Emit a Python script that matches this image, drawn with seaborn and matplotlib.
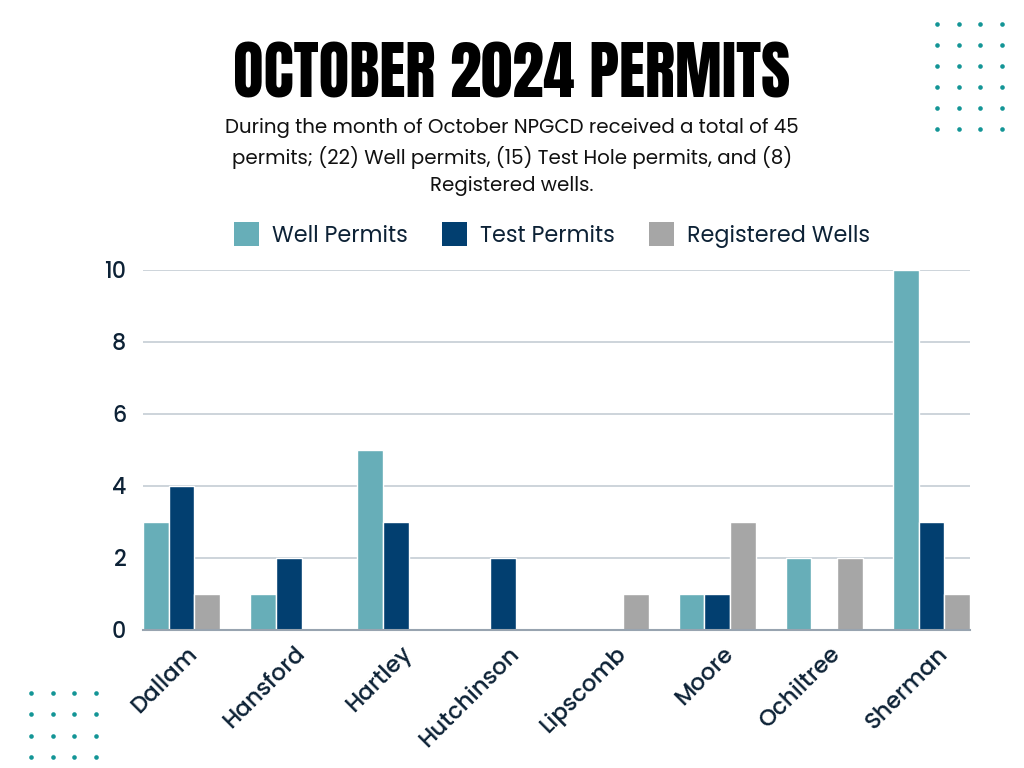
import numpy as np
import pandas as pd
import matplotlib
matplotlib.use("Agg")
import matplotlib.pyplot as plt
import matplotlib.transforms as mtransforms
from matplotlib import font_manager as fm
import seaborn as sns

# ---- data ----
counties = ["Dallam", "Hansford", "Hartley", "Hutchinson", "Lipscomb", "Moore", "Ochiltree", "Sherman"]
well_permits = [3, 1, 5, 0, 0, 1, 2, 10]
test_permits = [4, 2, 3, 2, 0, 1, 0, 3]
registered_wells = [1, 0, 0, 0, 1, 3, 2, 1]
series_names = ["Well Permits", "Test Permits", "Registered Wells"]
y_ticks = [0, 2, 4, 6, 8, 10]

title_text = "OCTOBER 2024 PERMITS"
subtitle_text = ("During the month of October NPGCD received a total of 45\n"
                 "permits; (22) Well permits, (15) Test Hole permits, and (8)\n"
                 "Registered wells.")

colors = {"Well Permits": "#67AEB8", "Test Permits": "#023F70", "Registered Wells": "#A6A6A6"}
text_dark = "#0D2236"

df = pd.DataFrame({
    "County": counties * 3,
    "Series": sum([[s] * len(counties) for s in series_names], []),
    "Value": well_permits + test_permits + registered_wells,
})

sns.set_style("white")
names = {f.name for f in fm.fontManager.ttflist}
body_font = next((n for n in ["Poppins", "Montserrat", "Open Sans", "Lato", "DejaVu Sans"] if n in names), "DejaVu Sans")
title_font = next((n for n in ["Anton", "Oswald", "Bebas Neue", "Roboto Condensed", "Liberation Sans Narrow", "DejaVu Sans"] if n in names), "DejaVu Sans")
plt.rcParams["font.family"] = [body_font, "DejaVu Sans"]

W, H = 1024, 768
fig = plt.figure(figsize=(W / 100, H / 100), dpi=100, facecolor="white")
ax = fig.add_axes([143 / W, 138 / H, 827 / W, 360 / H])

sns.barplot(data=df, x="County", y="Value", hue="Series", palette=colors,
            hue_order=series_names, order=counties, width=0.72, saturation=1,
            edgecolor="white", linewidth=1.0, ax=ax, errorbar=None)

ax.set_xlim(-0.36, len(counties) - 1 + 0.36)
ax.set_ylim(0, 10)
ax.set_yticks(y_ticks)
ax.set_xlabel("")
ax.set_ylabel("")
ax.set_axisbelow(True)
ax.yaxis.grid(True, color="#C9D1D8", linewidth=1.3)
ax.xaxis.grid(False)
for s in ["top", "right", "left"]:
    ax.spines[s].set_visible(False)
ax.spines["bottom"].set_color("#98A4B0")
ax.spines["bottom"].set_linewidth(1.5)
ax.spines["bottom"].set_zorder(5)
ax.tick_params(axis="y", length=0, pad=12, labelsize=16, labelcolor=text_dark)
ax.tick_params(axis="x", length=0, pad=9, labelsize=16.5, labelcolor=text_dark)
for lbl in ax.get_yticklabels():
    lbl.set_fontweight("medium")
offset = mtransforms.ScaledTranslation(5 / 100, 0, fig.dpi_scale_trans)
for lbl in ax.get_xticklabels():
    lbl.set_rotation(45)
    lbl.set_ha("right")
    lbl.set_rotation_mode("anchor")
    lbl.set_fontweight("medium")
    lbl.set_transform(lbl.get_transform() + offset)

sns.move_legend(ax, "center", bbox_to_anchor=(552 / W, 1 - 235 / H),
                bbox_transform=fig.transFigure, ncol=3, frameon=False, title=None,
                fontsize=16, handlelength=1.15, handleheight=1.3, handletextpad=0.6,
                columnspacing=1.5)
leg = ax.get_legend()
for t in leg.get_texts():
    t.set_color(text_dark)
for h in leg.legend_handles:
    h.set_edgecolor("none")

# title and subtitle
kw = {"fontstretch": "condensed"} if title_font == "DejaVu Sans" else {}
title = fig.text(512 / W, 1 - 74 / H, title_text, ha="center", va="center",
                 fontsize=40, fontweight="black", color="black", family=title_font, **kw)
sub = fig.text(512 / W, 1 - 157 / H, subtitle_text, ha="center", va="center",
               fontsize=13.5, color="#111111", linespacing=1.45)

fig.canvas.draw()
r = fig.canvas.get_renderer()
bw = title.get_window_extent(r).width
title.set_fontsize(40 * 556 / bw)
sw = sub.get_window_extent(r).width
sub.set_fontsize(13.5 * 572 / sw)

# decorative dot grids
deco = fig.add_axes([0, 0, 1, 1], zorder=-1)
deco.set_xlim(0, W)
deco.set_ylim(H, 0)
deco.axis("off")
gx, gy = np.meshgrid([937, 958.5, 980, 1001.5], [24, 45, 66, 87, 108, 129])
deco.scatter(gx.ravel(), gy.ravel(), s=11, color="#139596", linewidths=0)
gx, gy = np.meshgrid([31, 52.5, 74, 96], [693, 714, 736, 757])
deco.scatter(gx.ravel(), gy.ravel(), s=11, color="#139596", linewidths=0)

fig.savefig("out.png", dpi=100, facecolor="white")
